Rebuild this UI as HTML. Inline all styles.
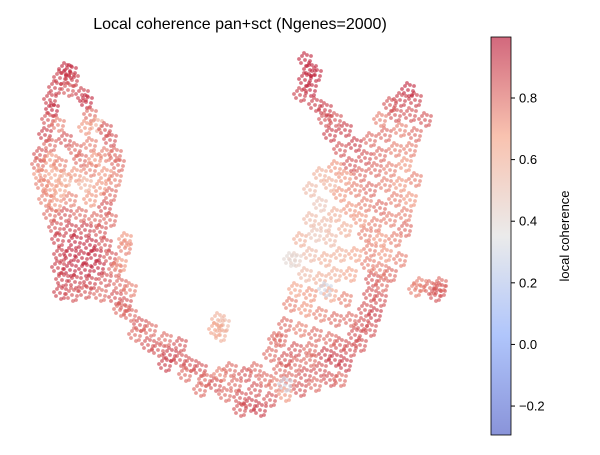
<!DOCTYPE html>
<html><head><meta charset="utf-8"><style>
body{margin:0;background:#fff;width:600px;height:450px;overflow:hidden}
svg{font-family:"Liberation Sans",sans-serif}
</style></head><body>
<svg id="chart" width="600" height="450" viewBox="0 0 600 450">
<defs><linearGradient id="cw" x1="0" y1="1" x2="0" y2="0">
<stop offset="0" stop-color="#3b4cc0"/><stop offset="0.25" stop-color="#7b9ff9"/><stop offset="0.5" stop-color="#dddddd"/><stop offset="0.75" stop-color="#f49a7b"/><stop offset="1" stop-color="#b40426"/>
</linearGradient></defs>
<text x="240" y="29" font-size="16" text-anchor="middle" fill="#000">Local coherence pan+sct (Ngenes=2000)</text>
<g id="pts"></g>
<rect x="491" y="37" width="20" height="398" fill="url(#cw)" opacity="0.6"/>
<rect x="491" y="37" width="20" height="398" fill="none" stroke="#000" stroke-width="0.8"/>
<g id="cbticks"></g>
<text transform="translate(569,236) rotate(-90)" font-size="13" text-anchor="middle">local coherence</text>
</svg>
<script>
const pointX=[6.5,7.0,6.0,7.2,5.5,6.8,8.2,8.6,5.0,5.2,4.8,5.8,9.0,9.6,8.5,4.5,5.0,6.5,10.5,11.0,9.0,7.5,4.0,3.8,5.0,6.0,8.0,9.5,10.5,11.5,11.8,4.0,5.5,6.5,7.5,9.0,10.5,11.5,4.2,5.0,6.0,8.5,10.0,11.0,4.5,5.5,7.0,9.0,10.5,5.0,6.5,8.0,9.5,11.0,5.5,7.0,8.5,10.0,5.8,7.5,9.0,10.5,12.5,6.0,7.0,8.2,9.5,11.0,5.8,7.0,8.5,9.8,11.5,6.2,7.5,9.0,10.5,12.0,6.0,7.2,8.5,10.0,11.5,12.5,13.0,12.0,14.0,13.5,15.0,14.8,15.8,16.5,17.0,18.0,16.5,19.0,18.5,20.0,20.5,21.5,20.0,22.0,22.5,23.5,23.0,24.0,24.5,25.0,25.5,26.0,26.5,27.0,27.5,28.0,28.5,29.0,29.5,30.0,30.5,31.0,31.5,32.0,32.5,33.0,33.5,34.0,34.5,35.0,35.5,36.0,36.2,37.0,36.5,37.5,37.0,38.0,37.2,38.2,36.8,38.0,39.0,37.0,38.5,40.0,36.5,38.0,39.5,40.5,36.0,37.5,39.0,40.5,35.0,36.5,38.0,39.5,41.0,34.0,35.5,37.0,38.5,40.0,41.5,33.0,34.5,36.0,37.5,39.0,40.5,32.0,33.5,35.0,36.5,38.0,39.5,41.0,34.0,35.5,37.0,38.5,40.0,41.5,33.0,34.5,39.5,41.0,42.5,40.0,41.5,40.8,39.0,38.0,32.5,31.5,31.0,30.5,31.0,30.5,31.5,30.0,32.5,33.5,31.0,32.0,31.0,32.5,33.5,31.5,33.0,34.5,30.0,29.5,31.0,32.5,34.0,35.5,30.5,32.0,33.5,35.0,29.5,31.0,33.0,34.5,29.0,30.5,32.0,33.5,35.0,28.5,30.0,31.5,33.0,28.0,29.5,31.0,27.0,27.5,28.5,21.8,22.3,21.5,22.0,42.0,43.0,44.0,43.5,41.5,44.0,13.0,12.5,12.0,18.0,34.0,24.0,28.5,32.5,29.0,25.5];
const pointY=[7.0,7.2,7.8,8.0,8.8,9.0,9.5,10.2,10.0,11.0,12.0,12.5,11.5,12.5,12.8,13.5,14.5,14.0,13.0,14.0,14.5,15.0,15.5,16.5,16.0,16.5,16.0,16.0,15.5,15.5,16.5,17.5,17.5,18.0,17.5,17.0,17.5,18.0,18.5,19.0,19.0,18.5,18.8,19.5,20.0,20.5,20.0,20.0,20.8,21.5,21.5,21.5,22.0,22.0,22.8,23.0,23.0,23.2,24.0,24.2,24.5,24.5,24.8,25.5,25.5,25.8,25.5,25.8,26.8,27.0,27.0,26.8,27.0,28.0,28.2,28.3,28.0,28.5,29.3,29.5,29.2,29.5,29.8,30.5,31.5,31.0,32.5,33.5,33.0,34.5,35.0,34.0,35.5,36.0,36.5,36.5,37.5,37.0,38.0,38.5,39.0,37.5,39.5,38.5,37.0,39.8,37.5,40.5,39.0,41.0,38.0,40.0,38.5,37.0,39.5,38.0,36.5,39.0,37.5,36.0,38.5,37.0,35.5,38.0,36.0,34.5,36.5,35.0,33.5,34.5,32.5,33.0,31.0,31.5,29.5,30.0,28.0,28.5,26.5,27.0,27.5,25.0,25.5,26.0,23.5,24.0,24.0,23.0,22.0,22.5,22.0,21.5,21.0,20.5,20.8,20.0,20.0,19.5,19.0,19.0,18.5,18.5,18.0,18.5,17.8,17.5,17.0,17.0,16.5,17.5,16.8,16.5,15.8,15.5,15.0,15.0,15.0,14.5,14.0,13.5,13.0,13.5,13.5,13.0,11.5,11.5,12.0,10.0,10.0,9.0,10.5,12.0,12.0,10.5,9.0,8.0,7.0,6.0,7.5,9.5,11.0,12.0,19.0,20.5,22.0,22.5,21.5,23.5,24.0,23.0,24.0,26.0,25.5,26.0,25.5,25.5,27.5,28.0,27.5,27.5,29.0,29.5,29.5,30.0,30.5,31.0,31.5,32.0,32.0,32.5,33.0,33.5,34.0,34.0,35.0,35.0,35.5,34.0,36.0,32.0,32.5,33.0,33.5,28.5,28.8,29.0,29.5,29.0,28.5,29.0,24.0,26.5,34.5,38.0,41.0,38.5,29.0,26.0,37.0];
const coherence=[.95,.95,.9,.9,.9,.85,.9,.95,.9,.95,.85,.75,.8,.6,.7,.9,.8,.85,.85,.85,.75,.8,.85,.8,.7,.75,.8,.7,.75,.8,.8,.7,.65,.6,.7,.75,.7,.75,.75,.7,.65,.6,.7,.8,.75,.7,.75,.7,.85,.8,.85,.8,.8,.8,.85,.9,.9,.85,.9,.95,.95,.85,.75,.9,.95,.95,.95,.85,.9,.95,.95,.95,.8,.9,.9,.9,.85,.8,.9,.85,.85,.8,.85,.85,.8,.8,.85,.8,.8,.85,.85,.8,.9,.85,.9,.85,.8,.85,.8,.85,.8,.75,.8,.8,.8,.85,.85,.9,.85,.9,.8,.85,.75,.8,.7,.8,.8,.85,.85,.8,.8,.85,.9,.85,.9,.85,.9,.85,.85,.85,.85,.85,.85,.9,.85,.85,.85,.8,.75,.75,.8,.75,.7,.75,.75,.7,.75,.8,.7,.75,.75,.75,.7,.75,.8,.75,.7,.7,.75,.8,.75,.7,.75,.6,.7,.8,.8,.75,.7,.6,.7,.85,.85,.8,.75,.75,.85,.9,.8,.8,.75,.8,.9,.9,.85,.85,.85,.9,.9,.95,.85,.75,.85,.9,.95,.95,.95,.95,.95,.9,.9,.85,.55,.5,.55,.55,.6,.5,.55,.6,.6,.45,.55,.6,.6,.65,.55,.6,.6,.65,.65,.7,.65,.75,.75,.7,.75,.8,.8,.8,.75,.8,.8,.8,.85,.8,.8,.8,.85,.6,.55,.65,.6,.75,.8,.85,.85,.75,.8,.75,.7,.7,.85,.8,.85,.3,.3,.4,.8];
const tickValues=[-0.2,0.0,0.2,0.4,0.6,0.8];
const tickLabels=["\u22120.2","0.0","0.2","0.4","0.6","0.8"];
const vMin=-0.294,vMax=0.998;
const xScale=d=>d*10, yScale=d=>d*10;
const cbScale=v=>435-(v-vMin)/(vMax-vMin)*398;
const stops=[[59,76,192],[123,159,249],[221,221,221],[244,154,123],[180,4,38]];
function color(v){let t=Math.max(0,Math.min(1,(v-vMin)/(vMax-vMin)))*4;let i=Math.min(3,Math.floor(t)),f=t-i;
const c=stops[i].map((a,k)=>Math.round(a+(stops[i+1][k]-a)*f));return `rgb(${c})`;}
// glyph pattern: each embedded cell group drawn as a small cloud of dots
const glyphDx=[0,5,-4,2,-3,4,-6,1,6,-1];
const glyphDy=[0,1,3,-5,-4,5,-1,6,-4,-7];
const NS="http://www.w3.org/2000/svg";
const g=document.getElementById('pts');
for(let i=0;i<pointX.length;i++){
 const grp=document.createElementNS(NS,'g');
 
 
 grp.setAttribute('fill',color(coherence[i]));
 grp.setAttribute('fill-opacity',0.6);
 const cx=xScale(pointX[i]),cy=yScale(pointY[i]);
 for(let k=0;k<glyphDx.length;k++){
  const c=document.createElementNS(NS,'circle');
  c.setAttribute('cx',cx+glyphDx[k]);c.setAttribute('cy',cy+glyphDy[k]);c.setAttribute('r',1.9);
  grp.appendChild(c);
 }
 g.appendChild(grp);
}
const tg=document.getElementById('cbticks');
tickValues.forEach((v,i)=>{
 const y=cbScale(v);
 const l=document.createElementNS(NS,'line');
 
 
 l.setAttribute('x1',511);l.setAttribute('x2',515);l.setAttribute('y1',y);l.setAttribute('y2',y);l.setAttribute('stroke','#000');
 tg.appendChild(l);
 const t=document.createElementNS(NS,'text');
 
 
 t.setAttribute('x',519);t.setAttribute('y',y+4.5);t.setAttribute('font-size','13');
 t.textContent=tickLabels[i];tg.appendChild(t);
});
</script>
</body></html>
